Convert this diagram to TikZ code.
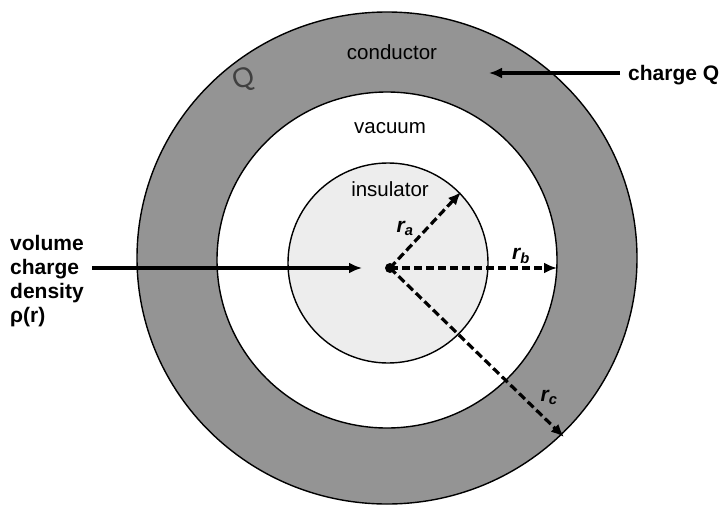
\documentclass[tikz,border=0pt]{standalone}
\usepackage{fontspec}
\setmainfont{Liberation Sans}
\usetikzlibrary{arrows.meta}
\definecolor{ringgray}{gray}{0.58}
\definecolor{insgray}{gray}{0.93}
\begin{document}
\begin{tikzpicture}[x=1pt,y=-1pt,
  lbl/.style={font=\fontsize{20.5}{24}\selectfont, inner sep=0pt},
  blbl/.style={font=\fontsize{21}{24}\selectfont\bfseries, inner sep=0pt, align=left},
  rlbl/.style={font=\fontsize{21}{24}\selectfont\bfseries\itshape, inner sep=0pt},
  outline/.style={line width=1.4pt},
  solidarrow/.style={line width=3.2pt, -{Latex[length=13pt,width=11pt]}},
  dasharrow/.style={line width=3.2pt, dash pattern=on 8pt off 4pt, -{Latex[length=13pt,width=11pt]}},
]
\useasboundingbox (0,0) rectangle (722,506);
% conductor ring
\fill[ringgray, even odd rule] (387,258) ellipse [x radius=250, y radius=246]
      (387,260) ellipse [x radius=170, y radius=168];
\draw[outline] (387,258) ellipse [x radius=250, y radius=246];
\draw[outline] (387,260) ellipse [x radius=170, y radius=168];
% insulator
\filldraw[fill=insgray, outline] (388,263) circle [radius=100];
% handwritten Q
\node[font=\fontsize{28}{28}\selectfont, text=black!75, rotate=20, inner sep=0pt] (handQ) at (244,80) {Q};
% labels
\node[lbl] (cond) at (392,52) {conductor};
\node[lbl] (vac) at (390,128) {vacuum};
\node[lbl] (ins) at (390,189) {insulator};
\node[blbl, anchor=base west] (chargeQ) at (628,80) {charge Q};
\node[blbl, anchor=north west] (vcd) at (10,235) {volume\\charge\\density\\ρ(r)};
% center
\coordinate (O) at (390,268);
\fill (O) circle [radius=5];
% radius arrows
\coordinate (ra) at (461,192);
\coordinate (rb) at (557,268);
\coordinate (rc) at (564,437);
\draw[dasharrow] (O) -- (ra);
\draw[dasharrow] (O) -- (rb);
\draw[dasharrow] (O) -- (rc);
\node[rlbl] (lra) at (405,228) {r\textsubscript{a}};
\node[rlbl] (lrb) at (521,256) {r\textsubscript{b}};
\node[rlbl] (lrc) at (549,397) {r\textsubscript{c}};
% pointer arrows
\coordinate (vstart) at (92,268);
\coordinate (vend) at (362,268);
\draw[solidarrow] (vstart) -- (vend);
\coordinate (qstart) at (620,73);
\coordinate (qend) at (489,73);
\draw[solidarrow] (qstart) -- (qend);
\end{tikzpicture}
\end{document}
